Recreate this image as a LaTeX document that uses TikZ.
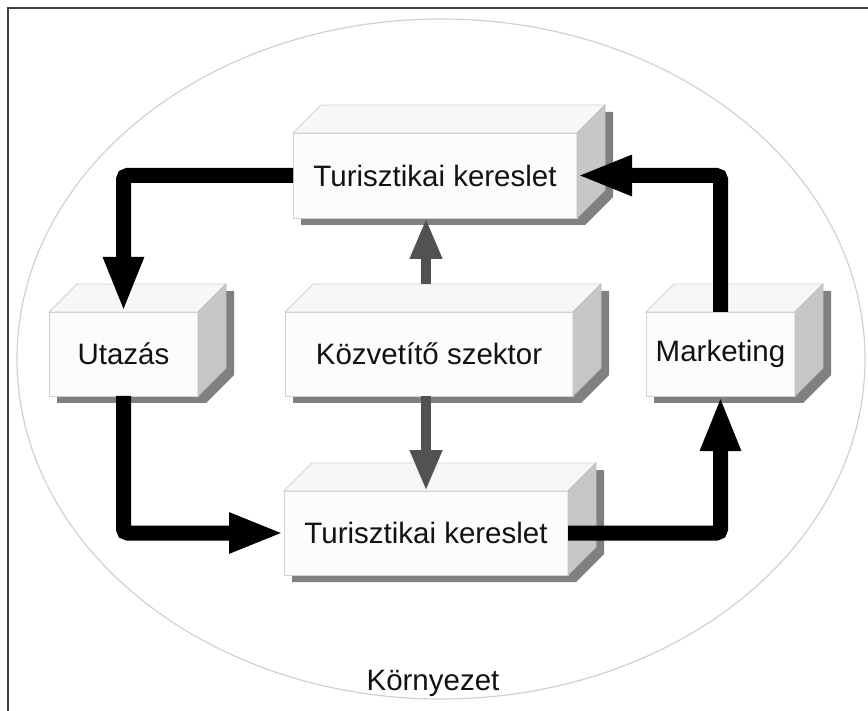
\documentclass[tikz,border=0pt]{standalone}
\usepackage{fontspec}
\setmainfont{Liberation Sans}
\usetikzlibrary{arrows.meta,backgrounds,calc}
\tikzset{
 frontface/.style={draw=black!18, fill=black!1, line width=0.8pt, inner sep=0pt, outer sep=0pt, font=\fontsize{29.5}{34}\selectfont, text=black!93},
 topface/.style={draw=black!18, fill=black!3, line width=0.8pt},
 sideface/.style={draw=black!25, fill=black!22, line width=0.8pt},
 shadowface/.style={fill=black!50},
 bigarrow/.style={line width=15pt, rounded corners=4pt, -{Triangle[length=55pt,width=37pt]}},
 grayarrow/.style={line width=10pt, draw=black!68, -{Triangle[length=41pt,width=30pt]}},
 envtext/.style={font=\fontsize{29.5}{34}\selectfont, text=black!93},
}
\newcommand\cubenode[6]{%
 \node[frontface, minimum width=#4pt, minimum height=#5pt] (#1) at (#2,#3) {#6};
 \begin{scope}[on background layer]
  \fill[shadowface] ([shift={(8,7)}]#1.south west) -- ([shift={(8,7)}]#1.north west)
   -- ([shift={(36,-21)}]#1.north west) -- ([shift={(36,-21)}]#1.north east)
   -- ([shift={(36,-21)}]#1.south east) -- ([shift={(8,7)}]#1.south east) -- cycle;
 \end{scope}
 \filldraw[topface] (#1.north west) -- ([shift={(28,-28)}]#1.north west) -- ([shift={(28,-28)}]#1.north east) -- (#1.north east) -- cycle;
 \filldraw[sideface] (#1.north east) -- ([shift={(28,-28)}]#1.north east) -- ([shift={(28,-28)}]#1.south east) -- (#1.south east) -- cycle;
}
\begin{document}
\begin{tikzpicture}[x=1pt,y=-1pt]
\useasboundingbox (0,0) rectangle (868,711);
\draw[black!75, line width=1.5pt] (8,711) -- (8,8) -- (868,8);
\draw[black!18, line width=1.2pt] (441,359) ellipse [x radius=424, y radius=340];
\node[envtext] (env) at (433,683) {Környezet};
\cubenode{top}{435}{175.5}{284}{85}{Turisztikai kereslet}
\cubenode{utz}{123.5}{354}{149}{84}{Utazás}
\cubenode{mid}{429}{354}{288}{84}{Közvetítő szektor}
\cubenode{mkt}{720.5}{354}{149}{84}{Marketing}
\cubenode{bot}{426}{533}{284}{84}{Turisztikai kereslet}
\draw[bigarrow] (top.west) -| (utz.north);
\draw[bigarrow] (utz.south) |- (bot.west);
\draw[bigarrow] (bot.east) -| (mkt.south);
\draw[bigarrow] (mkt.north) |- (top.east);
\draw[grayarrow] ([xshift=-3pt,yshift=28pt]mid.north) -- ([xshift=-3pt]mid.north |- top.south);
\draw[grayarrow] ([xshift=-3pt]mid.south) -- ([xshift=-3pt]mid.south |- bot.north);
\end{tikzpicture}
\end{document}
